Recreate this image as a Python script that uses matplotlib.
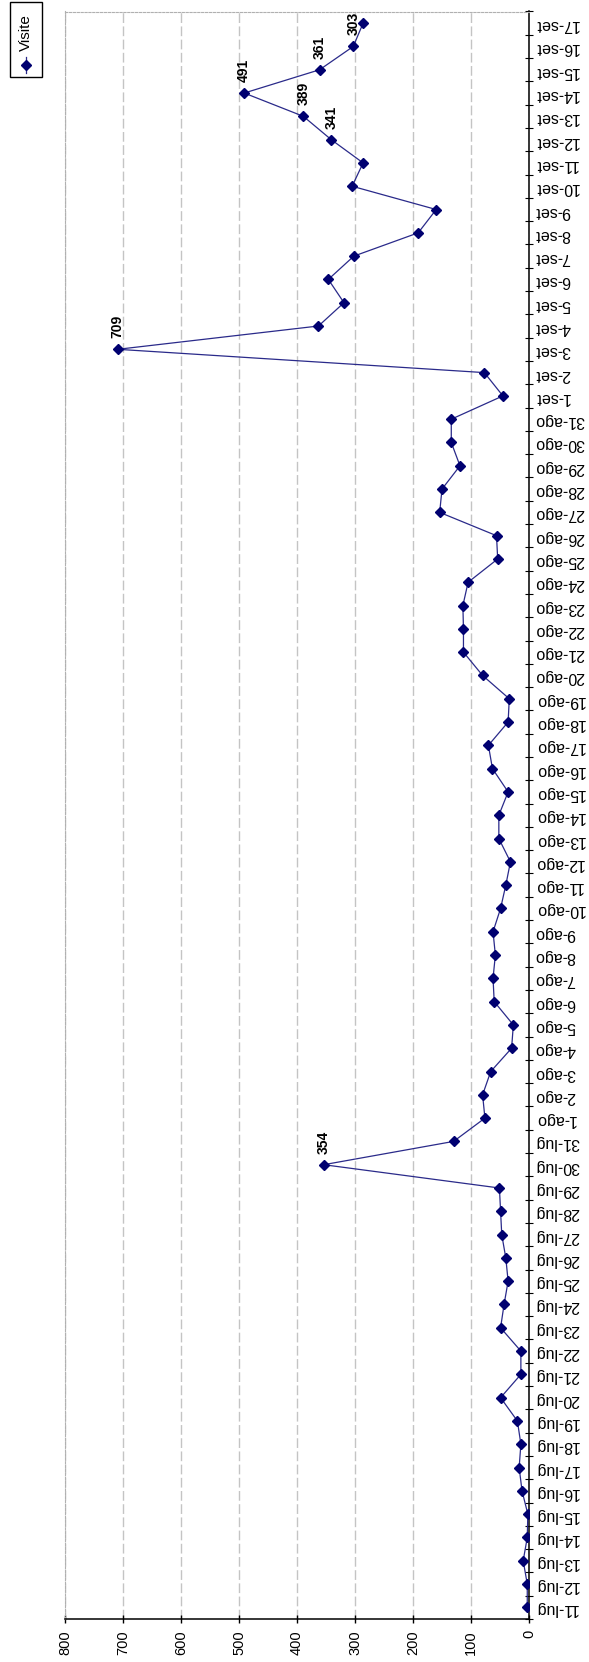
import matplotlib
matplotlib.use("Agg")
import matplotlib.pyplot as plt
import matplotlib.patches as mpatches
from matplotlib.lines import Line2D
import numpy as np

plt.rcParams['font.family'] = ['Liberation Sans', 'DejaVu Sans']

# ---- data ----
days_lug = [f"{d}-lug" for d in range(11, 32)]
days_ago = [f"{d}-ago" for d in range(1, 32)]
days_set = [f"{d}-set" for d in range(1, 18)]
categories = days_lug + days_ago + days_set

visite = [3, 3, 10, 3, 2, 12, 17, 14, 20, 49, 14, 14, 49, 43, 36, 40, 47, 49, 51, 354, 130,
          76, 80, 66, 30, 27, 60, 62, 58, 62, 49, 40, 32, 52, 52, 36, 63, 70, 36, 34, 80,
          113, 113, 114, 105, 54, 56, 154, 150, 119, 134, 134,
          45, 77, 709, 363, 319, 346, 302, 191, 160, 305, 286, 341, 389, 491, 361, 303, 286]
labelled = ["30-lug", "3-set", "12-set", "13-set", "14-set", "15-set", "16-set"]
value_ticks = [0, 100, 200, 300, 400, 500, 600, 700, 800]
series_name = "Visite"

W, H = 589, 1662
fig = plt.figure(figsize=(W / 100, H / 100), dpi=100)
ax = fig.add_axes([65 / W, (H - 1619) / H, 464 / W, 1607.5 / H])

pos = np.arange(len(categories))
ax.plot(visite, pos, color='#2a2a8a', lw=0.9, marker='D', ms=4.8,
        mfc='#000070', mec='#000070', zorder=3)

for name in labelled:
    i = categories.index(name)
    ax.annotate(str(visite[i]), (visite[i], i), xytext=(0, 8), textcoords='offset points',
                rotation=90, ha='center', va='bottom', fontsize=10, fontweight='bold',
                color='black')

ax.set_xlim(800, 0)
ax.set_ylim(-0.5, len(categories) - 0.5)
ax.set_xticks(value_ticks)
ax.set_xticklabels([str(v) for v in value_ticks], rotation=90, fontsize=10.5)
ax.tick_params(axis='x', direction='inout', length=6, width=1, pad=5)

ax.yaxis.tick_right()
ax.set_yticks(pos)
ax.set_yticklabels(categories, fontsize=11.5)
ax.tick_params(axis='y', which='major', length=0, pad=4, labelrotation=180)
ax.set_yticks(np.arange(-0.5, len(categories), 1), minor=True)
ax.tick_params(axis='y', which='minor', direction='inout', length=6, width=0.8,
               right=True, left=False)

ax.xaxis.grid(True, color='#c4c4c4', ls=(0, (7, 2.5)), lw=1)
ax.set_axisbelow(True)

for s in ['right', 'bottom']:
    ax.spines[s].set_color('black')
    ax.spines[s].set_linewidth(1.1)
for s in ['top', 'left']:
    ax.spines[s].set_color('#b0b0b0')
    ax.spines[s].set_linestyle((0, (2, 1.5)))
    ax.spines[s].set_linewidth(0.8)

# legend (rotated)
fx = lambda px: px / W
fy = lambda py: 1 - py / H
fig.patches.append(mpatches.Rectangle((fx(10), fy(77)), 32 / W, 75 / H,
                                      transform=fig.transFigure, facecolor='white',
                                      edgecolor='black', lw=1))
fig.text(fx(26), fy(33), series_name, rotation=90, ha='center', va='center', fontsize=11)
fig.add_artist(Line2D([fx(26), fx(26)], [fy(57), fy(73)], transform=fig.transFigure,
                      color='#2a2a8a', lw=0.9))
fig.add_artist(Line2D([fx(26)], [fy(65)], transform=fig.transFigure, marker='D', ms=4.8,
                      mfc='#000070', mec='#000070', ls='none'))

fig.savefig("out.png", dpi=100, facecolor='white')
